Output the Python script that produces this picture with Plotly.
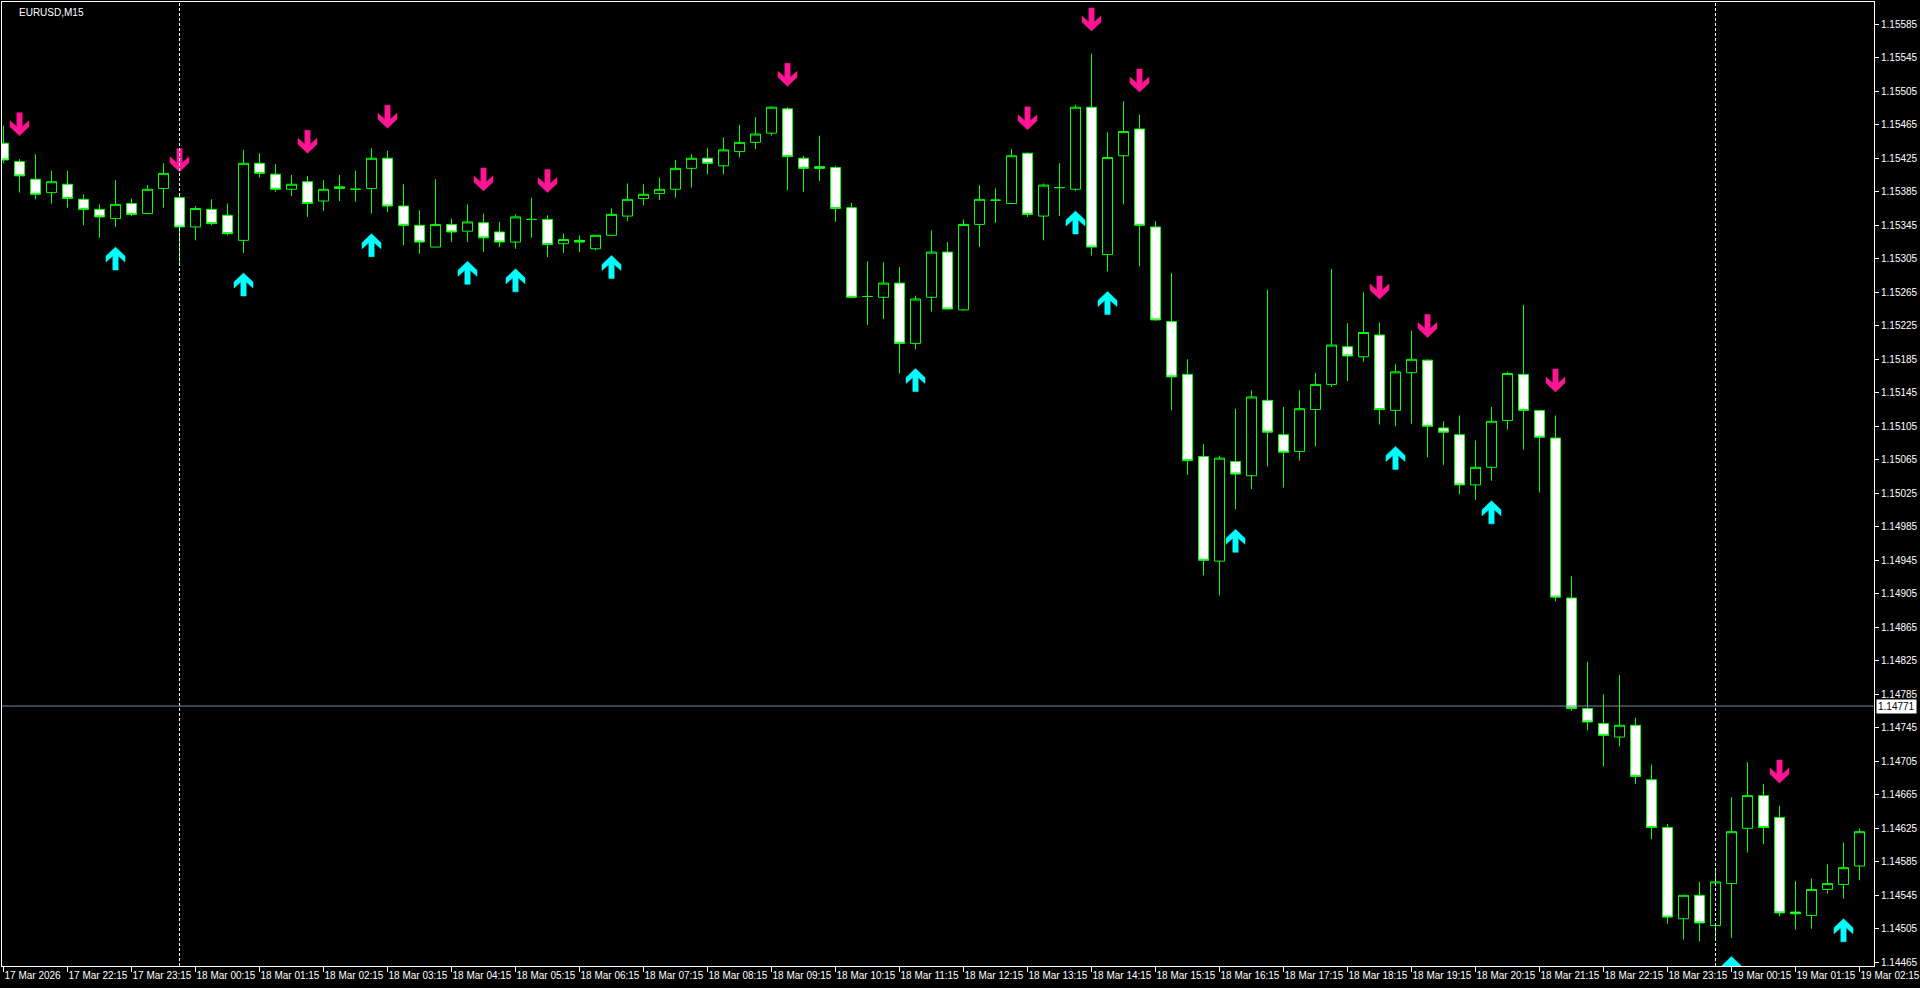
import plotly.graph_objects as go

# ---------------- data ----------------
time_labels = [
    "17 Mar 2026", "17 Mar 22:15", "17 Mar 23:15",
    "18 Mar 00:15", "18 Mar 01:15", "18 Mar 02:15", "18 Mar 03:15", "18 Mar 04:15", "18 Mar 05:15",
    "18 Mar 06:15", "18 Mar 07:15", "18 Mar 08:15", "18 Mar 09:15", "18 Mar 10:15", "18 Mar 11:15",
    "18 Mar 12:15", "18 Mar 13:15", "18 Mar 14:15", "18 Mar 15:15", "18 Mar 16:15", "18 Mar 17:15",
    "18 Mar 18:15", "18 Mar 19:15", "18 Mar 20:15", "18 Mar 21:15", "18 Mar 22:15", "18 Mar 23:15",
    "19 Mar 00:15", "19 Mar 01:15", "19 Mar 02:15",
]
label_bars = [0, 4, 8, 12, 16, 20, 24, 28, 32, 36, 40, 44, 48, 52, 56, 60, 64, 68, 72, 76, 80,
              84, 88, 92, 96, 100, 104, 108, 112, 116]

opens = [1.15443, 1.15421, 1.15400, 1.15384, 1.15394, 1.15376, 1.15364, 1.15353, 1.15371, 1.15359,
         1.15389, 1.15378, 1.15343, 1.15364, 1.15357, 1.15327, 1.15419, 1.15406, 1.15388, 1.15397,
         1.15374, 1.15389, 1.15388, 1.15389, 1.15425, 1.15368, 1.15345, 1.15319, 1.15346, 1.15338,
         1.15348, 1.15337, 1.15325, 1.15352, 1.15352, 1.15323, 1.15327, 1.15317, 1.15333, 1.15356,
         1.15377, 1.15383, 1.15388, 1.15413, 1.15425, 1.15416, 1.15433, 1.15444, 1.15455, 1.15484,
         1.15425, 1.15415, 1.15414, 1.15366, 1.15260, 1.15259, 1.15276, 1.15204, 1.15259, 1.15313,
         1.15244, 1.15346, 1.15375, 1.15371, 1.15431, 1.15356, 1.15390, 1.15388, 1.15486, 1.15310,
         1.15428, 1.15460, 1.15343, 1.15230, 1.15167, 1.15069, 1.14944, 1.15063, 1.15046, 1.15136,
         1.15095, 1.15075, 1.15125, 1.15155, 1.15200, 1.15188, 1.15214, 1.15124, 1.15169, 1.15184,
         1.15103, 1.15095, 1.15035, 1.15056, 1.15112, 1.15167, 1.15124, 1.15091, 1.14900, 1.14768,
         1.14750, 1.14734, 1.14748, 1.14683, 1.14626, 1.14517, 1.14545, 1.14509, 1.14559, 1.14625,
         1.14664, 1.14638, 1.14525, 1.14521, 1.14552, 1.14558, 1.14580]
highs = [1.15464, 1.15424, 1.15430, 1.15410, 1.15410, 1.15382, 1.15370, 1.15399, 1.15377, 1.15393,
         1.15419, 1.15382, 1.15368, 1.15376, 1.15371, 1.15435, 1.15431, 1.15418, 1.15405, 1.15404,
         1.15399, 1.15405, 1.15410, 1.15437, 1.15434, 1.15394, 1.15363, 1.15400, 1.15353, 1.15370,
         1.15359, 1.15349, 1.15358, 1.15378, 1.15357, 1.15335, 1.15333, 1.15333, 1.15365, 1.15395,
         1.15394, 1.15402, 1.15423, 1.15430, 1.15437, 1.15450, 1.15465, 1.15474, 1.15487, 1.15486,
         1.15428, 1.15452, 1.15416, 1.15372, 1.15302, 1.15301, 1.15295, 1.15261, 1.15339, 1.15325,
         1.15352, 1.15393, 1.15389, 1.15436, 1.15432, 1.15395, 1.15419, 1.15489, 1.15550, 1.15456,
         1.15493, 1.15477, 1.15350, 1.15288, 1.15185, 1.15084, 1.15070, 1.15126, 1.15148, 1.15268,
         1.15128, 1.15148, 1.15169, 1.15293, 1.15228, 1.15265, 1.15229, 1.15179, 1.15219, 1.15185,
         1.15111, 1.15118, 1.15088, 1.15128, 1.15170, 1.15250, 1.15124, 1.15118, 1.14926, 1.14824,
         1.14785, 1.14808, 1.14757, 1.14701, 1.14630, 1.14545, 1.14561, 1.14576, 1.14662, 1.14704,
         1.14678, 1.14652, 1.14562, 1.14565, 1.14582, 1.14608, 1.14625]
lows = [1.15419, 1.15384, 1.15376, 1.15371, 1.15366, 1.15345, 1.15330, 1.15343, 1.15356, 1.15359,
        1.15366, 1.15300, 1.15327, 1.15345, 1.15333, 1.15312, 1.15402, 1.15385, 1.15380, 1.15355,
        1.15362, 1.15374, 1.15373, 1.15359, 1.15361, 1.15321, 1.15311, 1.15319, 1.15325, 1.15325,
        1.15313, 1.15319, 1.15317, 1.15330, 1.15307, 1.15312, 1.15313, 1.15315, 1.15333, 1.15350,
        1.15369, 1.15375, 1.15378, 1.15390, 1.15406, 1.15406, 1.15426, 1.15436, 1.15452, 1.15387,
        1.15385, 1.15398, 1.15349, 1.15259, 1.15226, 1.15233, 1.15168, 1.15197, 1.15242, 1.15245,
        1.15243, 1.15319, 1.15348, 1.15370, 1.15355, 1.15327, 1.15356, 1.15386, 1.15309, 1.15290,
        1.15370, 1.15296, 1.15231, 1.15124, 1.15047, 1.14927, 1.14903, 1.15006, 1.15030, 1.15057,
        1.15032, 1.15064, 1.15081, 1.15152, 1.15159, 1.15182, 1.15107, 1.15105, 1.15108, 1.15068,
        1.15059, 1.15024, 1.15017, 1.15040, 1.15101, 1.15077, 1.15026, 1.14896, 1.14765, 1.14742,
        1.14699, 1.14723, 1.14678, 1.14612, 1.14511, 1.14492, 1.14490, 1.14491, 1.14494, 1.14596,
        1.14606, 1.14520, 1.14504, 1.14505, 1.14547, 1.14541, 1.14563]
closes = [1.15423, 1.15404, 1.15382, 1.15397, 1.15377, 1.15364, 1.15355, 1.15370, 1.15358, 1.15388,
          1.15407, 1.15343, 1.15365, 1.15347, 1.15335, 1.15419, 1.15407, 1.15388, 1.15394, 1.15371,
          1.15388, 1.15391, 1.15388, 1.15425, 1.15368, 1.15345, 1.15325, 1.15346, 1.15337, 1.15349,
          1.15330, 1.15325, 1.15355, 1.15352, 1.15322, 1.15328, 1.15325, 1.15333, 1.15358, 1.15376,
          1.15382, 1.15388, 1.15413, 1.15425, 1.15419, 1.15435, 1.15444, 1.15454, 1.15486, 1.15427,
          1.15413, 1.15413, 1.15365, 1.15259, 1.15260, 1.15276, 1.15204, 1.15257, 1.15313, 1.15245,
          1.15346, 1.15376, 1.15375, 1.15428, 1.15358, 1.15393, 1.15390, 1.15486, 1.15319, 1.15426,
          1.15457, 1.15345, 1.15232, 1.15164, 1.15064, 1.14945, 1.15067, 1.15048, 1.15140, 1.15098,
          1.15074, 1.15126, 1.15155, 1.15202, 1.15189, 1.15217, 1.15125, 1.15170, 1.15185, 1.15105,
          1.15098, 1.15035, 1.15056, 1.15111, 1.15168, 1.15124, 1.15092, 1.14901, 1.14768, 1.14752,
          1.14736, 1.14748, 1.14687, 1.14626, 1.14519, 1.14545, 1.14512, 1.14561, 1.14621, 1.14664,
          1.14626, 1.14524, 1.14523, 1.14552, 1.14559, 1.14578, 1.14621]

down_arrow_bars = [1, 11, 19, 24, 30, 34, 49, 64, 68, 71, 86, 89, 97, 111]
down_arrow_prices = [1.15452, 1.15409, 1.15431, 1.15461, 1.15386, 1.15384, 1.15511, 1.15459,
                     1.15577, 1.15504, 1.15257, 1.15211, 1.15146, 1.14679]
up_arrow_bars = [7, 15, 23, 29, 32, 38, 57, 67, 69, 77, 87, 93, 108, 115]
up_arrow_prices = [1.15319, 1.15288, 1.15335, 1.15302, 1.15293, 1.15309, 1.15174, 1.15362,
                   1.15266, 1.14982, 1.15081, 1.15016, 1.14472, 1.14517]

separator_bars = [11, 107]
hline_price = 1.14771
symbol_title = "EURUSD,M15"

# ---------------- layout geometry ----------------
W, H = 1920, 988
M_L, M_R, M_T, M_B = 2, 46, 2, 22
PLOT_W = W - M_L - M_R
PLOT_H = H - M_T - M_B
X_RANGE = [-0.09375, -0.09375 + PLOT_W / 16.0]
Y_RANGE = [1.144606, 1.156116]
sx = (X_RANGE[1] - X_RANGE[0]) / PLOT_W   # data units per pixel
sy = (Y_RANGE[1] - Y_RANGE[0]) / PLOT_H

FONT = "Liberation Sans"
GREEN = "#00FF00"

x = list(range(len(opens)))

fig = go.Figure()
fig.add_trace(go.Candlestick(
    x=x, open=opens, high=highs, low=lows, close=closes,
    increasing=dict(line=dict(color=GREEN, width=1), fillcolor="#000000"),
    decreasing=dict(line=dict(color=GREEN, width=1), fillcolor="#FFFFFF"),
    whiskerwidth=0, showlegend=False, hoverinfo="skip",
))

# arrow glyph (pixels, tip at origin, body extends away from tip)
ARROW = [(-2.7, 23), (2.7, 23), (2.7, 9), (9.5, 15), (9.5, 9), (0, 0),
         (-9.5, 9), (-9.5, 15), (-2.7, 9), (-2.7, 23)]


def arrow_polys(bars, prices, sign):
    xs, ys = [], []
    for b, p in zip(bars, prices):
        for dx, dy in ARROW:
            xs.append(b + dx * sx)
            ys.append(p + sign * dy * sy)
        xs.append(None)
        ys.append(None)
    return xs, ys


dx_, dy_ = arrow_polys(down_arrow_bars, down_arrow_prices, +1)
fig.add_trace(go.Scatter(x=dx_, y=dy_, mode="lines", fill="toself", fillcolor="#FF1493",
                         line=dict(color="#FF1493", width=0.5), showlegend=False, hoverinfo="skip"))
ux_, uy_ = arrow_polys(up_arrow_bars, up_arrow_prices, -1)
fig.add_trace(go.Scatter(x=ux_, y=uy_, mode="lines", fill="toself", fillcolor="#00FFFF",
                         line=dict(color="#00FFFF", width=0.5), showlegend=False, hoverinfo="skip"))

shapes = []
for b in separator_bars:
    shapes.append(dict(type="line", xref="x", yref="paper", x0=b, x1=b, y0=0, y1=1,
                       line=dict(color="#FFFFFF", width=1, dash="3px,2px")))
shapes.append(dict(type="line", xref="paper", yref="y", x0=0, x1=1, y0=hline_price, y1=hline_price,
                   line=dict(color="#7A8797", width=1)))

annotations = [
    dict(text=symbol_title, xref="paper", yref="paper", x=0, y=1, xanchor="left", yanchor="top",
         xshift=15, yshift=-3, showarrow=False, font=dict(family=FONT, size=10, color="#FFFFFF")),
    dict(text=f"{hline_price:.5f}", xref="paper", yref="y", x=1, y=hline_price, xanchor="left",
         yanchor="middle", xshift=2, showarrow=False, bgcolor="#FFFFFF", borderpad=1,
         font=dict(family=FONT, size=10, color="#000000")),
]

fig.update_layout(
    width=W, height=H,
    margin=dict(l=M_L, r=M_R, t=M_T, b=M_B, pad=0),
    paper_bgcolor="#000000", plot_bgcolor="#000000",
    font=dict(family=FONT, size=10, color="#FFFFFF"),
    boxgap=0.375, boxgroupgap=0,
    shapes=shapes, annotations=annotations,
    showlegend=False,
    xaxis=dict(range=X_RANGE, rangeslider=dict(visible=False), showgrid=False, zeroline=False,
               tickmode="array", tickvals=label_bars, ticktext=time_labels, tickangle=0,
               ticks="outside", ticklen=5, tickcolor="#FFFFFF", ticklabelposition="outside right",
               showline=True, mirror=True, linecolor="#FFFFFF", linewidth=1,
               tickfont=dict(family=FONT, size=10, color="#FFFFFF"), automargin=False, fixedrange=True),
    yaxis=dict(range=Y_RANGE, side="right", showgrid=False, zeroline=False,
               tickmode="linear", tick0=1.14465, dtick=0.0004, tickformat=".5f",
               ticks="outside", ticklen=4, tickcolor="#FFFFFF",
               showline=True, mirror=True, linecolor="#FFFFFF", linewidth=1,
               tickfont=dict(family=FONT, size=10, color="#FFFFFF"), automargin=False, fixedrange=True),
)

fig.write_html(
    "out.html",
    config={"displayModeBar": False},
    post_script="document.body.style.margin='0';document.body.style.overflow='hidden';",
)
